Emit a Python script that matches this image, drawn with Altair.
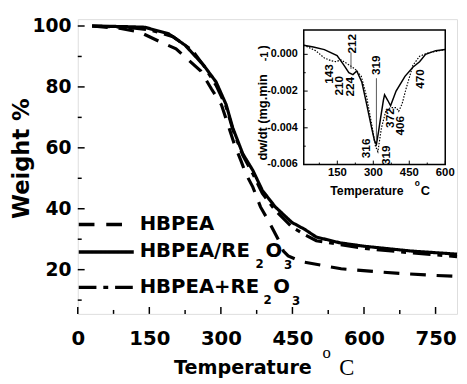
import altair as alt
import pandas as pd

# ---------------- data ----------------
series_names = ["HBPEA", "HBPEA/RE2O3", "HBPEA+RE2O3"]

hbpea_T = [30, 90, 130, 170, 206, 258, 280, 301, 328, 342, 352, 367, 383, 398, 420, 431, 441, 470, 552, 620, 682, 750, 795]
hbpea_W = [100, 99.2, 98.0, 95.0, 92.5, 85.2, 79.4, 74.2, 61.3, 55.8, 51.6, 47.1, 40.6, 36.5, 30.0, 26.1, 24.5, 22.6, 20.3, 19.4, 18.7, 18.1, 17.8]

slash_T = [30, 100, 140, 190, 225, 264, 290, 311, 325, 346, 367, 387, 414, 449, 476, 500, 550, 600, 700, 795]
slash_W = [100, 99.8, 99.6, 97.5, 93.7, 87.1, 81.6, 74.2, 66.5, 58.0, 52.6, 46.0, 40.6, 35.5, 33.2, 30.7, 28.8, 27.7, 26.1, 25.1]

plus_T = [30, 100, 150, 200, 240, 264, 290, 311, 325, 346, 367, 387, 414, 449, 476, 500, 600, 700, 795]
plus_W = [100, 99.6, 98.8, 96.5, 92.0, 87.0, 80.5, 73.5, 66.0, 57.5, 51.5, 45.0, 39.5, 34.0, 31.5, 29.5, 27.0, 25.5, 24.3]

# inset DTG curves
dtg_solid_T = [10, 50, 96, 149, 178, 198, 215, 231, 252, 272, 293, 305, 313, 322, 330, 342, 347, 360, 372, 395, 432, 465, 493, 518, 560, 600]
dtg_solid_R = [0.0005, 0.0004, 0.00026, -0.00007, -0.0006, -0.001, -0.0011, -0.0009, -0.0015, -0.0027, -0.004, -0.0047, -0.0049,
               -0.0042, -0.0035, -0.0025, -0.0022, -0.0025, -0.0028, -0.002, -0.0012, -0.0007, -0.0004, 0.0, 0.0002, 0.00026]
dtg_dot_T = [10, 60, 96, 125, 143, 165, 190, 224, 250, 272, 293, 309, 319, 334, 354, 375, 395, 406, 420, 436, 465, 493, 535, 600]
dtg_dot_R = [0.0005, 0.0002, -0.0002, -0.00035, -0.0004, -0.0003, -0.0005, -0.0008, -0.0012, -0.0023, -0.0038, -0.005, -0.0053,
             -0.004, -0.003, -0.0029, -0.0029, -0.0031, -0.0027, -0.0019, -0.0006, -0.0001, 0.0001, 0.00026]

# ticks
temp_ticks = [0, 150, 300, 450, 600, 750]
temp_minor = [75, 225, 375, 525, 675]
weight_ticks = [20, 40, 60, 80, 100]
weight_minor = [10, 30, 50, 70, 90]
inset_T_ticks = [150, 300, 450, 600]
inset_T_minor = [75, 225, 375, 525]
inset_R_ticks = [0.0, -0.002, -0.004, -0.006]
inset_R_labels = ["0.000", "-0.002", "-0.004", "-0.006"]
inset_R_minor = [-0.001, -0.003, -0.005]

# peak annotations (label, T, dw/dt position)
peak_labels = ["143", "210", "224", "212", "319", "316", "319", "372", "406", "470"]
peak_T = [117, 158, 203, 211, 313, 268, 354, 371, 412, 494]
peak_R = [-0.00107, -0.00171, -0.00176, 0.00058, -0.00059, -0.00512, -0.00549, -0.00347, -0.00389, -0.00134]

# ---------------- layout ----------------
W, H = 386, 300
BOLD = "DejaVu Sans"
ARIAL = "Liberation Sans"

xs = alt.Scale(domain=[0, 795], nice=False, zero=False)
ys = alt.Scale(domain=[5.48, 102.26], nice=False, zero=False)
ix = alt.Scale(domain=[10, 600], range=[230, 374], nice=False, zero=False)
iy = alt.Scale(domain=[-0.006, 0.00133], range=[148, 11], nice=False, zero=False)

rows = []
for name, T, Wt in [(series_names[0], hbpea_T, hbpea_W), (series_names[1], slash_T, slash_W), (series_names[2], plus_T, plus_W)]:
    for i, (t, w) in enumerate(zip(T, Wt)):
        rows.append({"series": name, "T": t, "W": w, "i": i})
main_df = pd.DataFrame(rows)

dash_scale = alt.Scale(domain=series_names, range=[[16, 11], [1, 0], [18, 7, 5, 7]])

main_lines = alt.Chart(main_df).mark_line(color="black", strokeWidth=3.2).encode(
    x=alt.X("T:Q", scale=xs, axis=alt.Axis(values=temp_ticks, ticks=False, tickSize=0, domain=False, grid=False,
                                           labelFont=BOLD, labelFontWeight="bold", labelFontSize=20, labelColor="black",
                                           labelPadding=15, labelFlush=False, labelOverlap=False, title=None, orient="bottom")),
    y=alt.Y("W:Q", scale=ys, axis=alt.Axis(values=weight_ticks, ticks=False, tickSize=0, domain=False, grid=False,
                                           labelFont=BOLD, labelFontWeight="bold", labelFontSize=19, labelColor="black",
                                           labelPadding=7, labelFlush=False, labelOverlap=False, title=None, orient="left")),
    strokeDash=alt.StrokeDash("series:N", scale=dash_scale, legend=None),
    detail="series:N",
    order="i:Q",
)

def xticks(vals, scale, y0, length, sw):
    return alt.Chart(pd.DataFrame({"v": vals})).mark_rule(color="black", strokeWidth=sw).encode(
        x=alt.X("v:Q", scale=scale, axis=None), y=alt.value(y0), y2=alt.value(y0 - length))

def yticks(vals, scale, x0, length, sw):
    return alt.Chart(pd.DataFrame({"v": vals})).mark_rule(color="black", strokeWidth=sw).encode(
        y=alt.Y("v:Q", scale=scale, axis=None), x=alt.value(x0), x2=alt.value(x0 + length))

def txt(s, x, y, size, font=BOLD, weight="bold", align="left", baseline="middle", angle=0):
    return alt.Chart(pd.DataFrame({"t": [s]})).mark_text(
        font=font, fontWeight=weight, fontSize=size, align=align, baseline=baseline, angle=angle, color="black"
    ).encode(text="t:N", x=alt.value(x), y=alt.value(y))

def legline(y, dash):
    return alt.Chart(pd.DataFrame({"a": [0]})).mark_rule(color="black", strokeWidth=3.5, strokeDash=dash).encode(
        x=alt.value(1), x2=alt.value(57), y=alt.value(y))

main_ticks = [
    xticks(temp_ticks, xs, H, 7, 1.5), xticks(temp_minor, xs, H, 4, 1.5),
    yticks(weight_ticks, ys, 0, 7, 1.5), yticks(weight_minor, ys, 0, 4, 1.5),
]

legend = [
    legline(209, [16, 12]), txt(series_names[0], 63, 209, 20),
    legline(237, [1, 0]), txt("HBPEA/RE", 63, 236, 20), txt("2", 181, 249, 12), txt("O", 191, 236, 20), txt("3", 210, 250, 12),
    legline(273, [18, 7, 5, 7]), txt("HBPEA+RE", 63, 273, 20), txt("2", 189, 286, 12), txt("O", 199, 273, 20), txt("3", 218, 287, 12),
]

titles = [
    txt("Weight %", -57, 142, 23, align="center", angle=270),
    txt("Temperature", 98, 361, 19.5, baseline="alphabetic"),
    txt("o", 249, 345, 17, font="Liberation Serif", weight="normal", baseline="alphabetic"),
    txt("C", 266, 362, 23, font="Liberation Serif", weight="normal", baseline="alphabetic"),
]

# ---------------- inset ----------------
inset_frame = alt.Chart(pd.DataFrame({"a": [0]})).mark_rect(fill="white", stroke="black", strokeWidth=1.5).encode(
    x=alt.value(230), x2=alt.value(374), y=alt.value(11), y2=alt.value(148))

dot_df = pd.DataFrame({"T": dtg_dot_T, "R": dtg_dot_R, "i": range(len(dtg_dot_T))})
sol_df = pd.DataFrame({"T": dtg_solid_T, "R": dtg_solid_R, "i": range(len(dtg_solid_T))})

inset_dot = alt.Chart(dot_df).mark_line(color="black", strokeWidth=1.2, strokeDash=[1.5, 1.5]).encode(
    x=alt.X("T:Q", scale=ix, axis=None), y=alt.Y("R:Q", scale=iy, axis=None), order="i:Q")
inset_sol = alt.Chart(sol_df).mark_line(color="black", strokeWidth=1.5).encode(
    x=alt.X("T:Q", scale=ix, axis=None), y=alt.Y("R:Q", scale=iy, axis=None), order="i:Q")

inset_ticks = [
    xticks(inset_T_ticks, ix, 148, 4, 1), xticks(inset_T_minor, ix, 148, 2, 1),
    yticks(inset_R_ticks, iy, 230, 4, 1), yticks(inset_R_minor, iy, 230, 2, 1),
]

inset_xlab = alt.Chart(pd.DataFrame({"v": inset_T_ticks, "t": [str(v) for v in inset_T_ticks]})).mark_text(
    font=ARIAL, fontWeight="bold", fontSize=11.5, align="center", baseline="middle", color="black").encode(
    x=alt.X("v:Q", scale=ix, axis=None), y=alt.value(156.5), text="t:N")
inset_ylab = alt.Chart(pd.DataFrame({"v": inset_R_ticks, "t": inset_R_labels})).mark_text(
    font=ARIAL, fontWeight="bold", fontSize=11, align="right", baseline="middle", color="black").encode(
    y=alt.Y("v:Q", scale=iy, axis=None), x=alt.value(224), text="t:N")

inset_titles = [
    txt("Temperature", 257, 178.5, 12.5, font=ARIAL, baseline="alphabetic"),
    txt("o", 343, 169.5, 8.5, font=ARIAL, baseline="alphabetic"),
    txt("C", 349, 178.5, 13, font=ARIAL, baseline="alphabetic"),
    txt("dw/dt (mg.min", 189, 144, 13, font=ARIAL, angle=270),
    txt("-1", 191, 43, 11, font=ARIAL, angle=270),
    txt(")", 189, 31, 13, font=ARIAL, angle=270),
]

peaks = alt.Chart(pd.DataFrame({"T": peak_T, "R": peak_R, "t": peak_labels})).mark_text(
    font=ARIAL, fontWeight="bold", fontSize=12, angle=270, align="center", baseline="middle", color="black").encode(
    x=alt.X("T:Q", scale=ix, axis=None), y=alt.Y("R:Q", scale=iy, axis=None), text="t:N")

pointer_T = [313, 207]
pointer_R0 = [-0.0013, 0.0001]
pointer_R1 = [-0.0047, -0.0008]
pointers = alt.Chart(pd.DataFrame({"T": pointer_T, "R0": pointer_R0, "R1": pointer_R1})).mark_rule(
    color="#444444", strokeWidth=0.9).encode(
    x=alt.X("T:Q", scale=ix, axis=None), y=alt.Y("R0:Q", scale=iy, axis=None), y2="R1:Q")

chart = alt.layer(
    *main_ticks, main_lines, *legend, *titles,
    inset_frame, *inset_ticks, inset_dot, inset_sol, pointers, peaks, inset_xlab, inset_ylab, *inset_titles,
).resolve_scale(x="independent", y="independent").properties(
    width=W, height=H,
    autosize=alt.AutoSizeParams(type="none"),
    padding={"left": 71, "top": 8, "right": 2, "bottom": 66},
).configure_view(stroke="black", strokeWidth=2).configure(background="white")

chart.save("out.html", embed_options={"renderer": "svg", "actions": False})
